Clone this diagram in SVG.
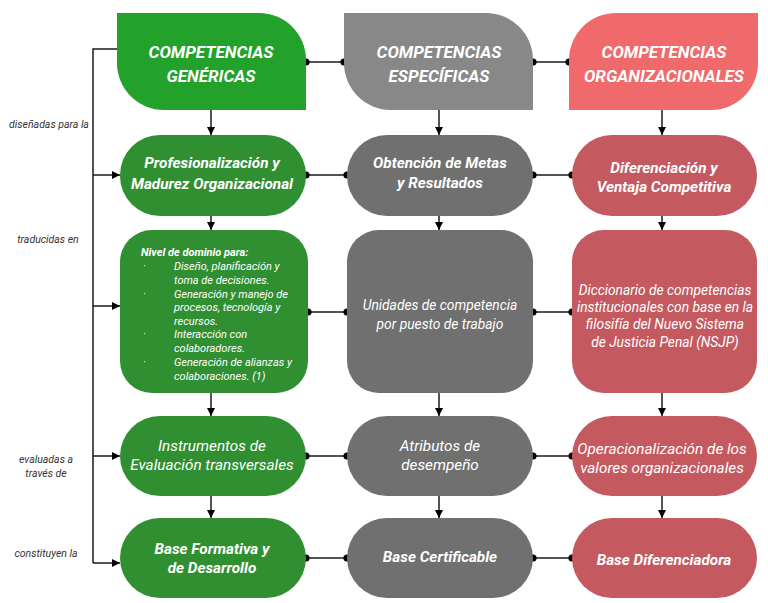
<svg xmlns="http://www.w3.org/2000/svg" width="768" height="603" viewBox="0 0 768 603">
<style>
.t{font-family:Roboto,"Liberation Sans",sans-serif;fill:#fff;font-style:italic;text-anchor:middle}
.h{font-size:17px;font-weight:bold}
.b{font-size:15.3px;font-weight:bold}
.r{font-size:15.3px}
.s{font-size:13.8px}
.x{font-size:11px;text-anchor:start}
.lab{font-family:Roboto,"Liberation Sans",sans-serif;font-style:italic;font-size:10.5px;fill:#333;text-anchor:middle}
.ln{stroke:#1a1a1a;stroke-width:1.5;fill:none}
.dot{fill:#000}
.gH{fill:#22A22A}.g{fill:#2F8F31}
.yH{fill:#888888}.y{fill:#707070}
.rH{fill:#F06A6B}.rr{fill:#C45960}
</style>
<defs>
<marker id="ar" viewBox="0 0 10 10" refX="10" refY="5" markerWidth="8" markerHeight="8" markerUnits="userSpaceOnUse" orient="auto">
<path d="M0,0 L10,5 L0,10 Z" fill="#000"/>
</marker>
</defs>
<g id="connectors">
<path class="ln" d="M117,49 H93 V563"/>
<path class="ln" d="M93,175 H120" marker-end="url(#ar)"/>
<path class="ln" d="M93,306 H120" marker-end="url(#ar)"/>
<path class="ln" d="M93,456 H120" marker-end="url(#ar)"/>
<path class="ln" d="M93,563 H120" marker-end="url(#ar)"/>
<path class="ln" d="M211,110 V135" marker-end="url(#ar)"/>
<path class="ln" d="M211,216 V230" marker-end="url(#ar)"/>
<path class="ln" d="M211,393 V416" marker-end="url(#ar)"/>
<path class="ln" d="M211,496 V518" marker-end="url(#ar)"/>
<path class="ln" d="M439,110 V135" marker-end="url(#ar)"/>
<path class="ln" d="M439,216 V230" marker-end="url(#ar)"/>
<path class="ln" d="M439,393 V416" marker-end="url(#ar)"/>
<path class="ln" d="M439,496 V518" marker-end="url(#ar)"/>
<path class="ln" d="M662,110 V135" marker-end="url(#ar)"/>
<path class="ln" d="M662,216 V230" marker-end="url(#ar)"/>
<path class="ln" d="M662,393 V416" marker-end="url(#ar)"/>
<path class="ln" d="M662,496 V518" marker-end="url(#ar)"/>
<path class="ln" d="M306,62 H344 M533,62 H569 M306,175 H347 M533,175 H572 M308,312 H347 M533,312 H572 M306,456 H347 M533,456 H572 M306,558 H347 M533,558 H572"/>
<g class="dot">
<circle cx="306" cy="62" r="3.6"/><circle cx="344" cy="62" r="3.6"/><circle cx="533" cy="62" r="3.6"/><circle cx="569" cy="62" r="3.6"/>
<circle cx="306" cy="175" r="3.6"/><circle cx="347" cy="175" r="3.6"/><circle cx="533" cy="175" r="3.6"/><circle cx="572" cy="175" r="3.6"/>
<circle cx="308" cy="312" r="3.6"/><circle cx="347" cy="312" r="3.6"/><circle cx="533" cy="312" r="3.6"/><circle cx="572" cy="312" r="3.6"/>
<circle cx="306" cy="456" r="3.6"/><circle cx="347" cy="456" r="3.6"/><circle cx="533" cy="456" r="3.6"/><circle cx="572" cy="456" r="3.6"/>
<circle cx="306" cy="558" r="3.6"/><circle cx="347" cy="558" r="3.6"/><circle cx="533" cy="558" r="3.6"/><circle cx="572" cy="558" r="3.6"/>
</g>
</g>
<g id="labels">
<text class="lab" x="49" y="128">diseñadas para la</text>
<text class="lab" x="48" y="243">traducidas en</text>
<text class="lab" x="46" y="463">evaluadas a</text>
<text class="lab" x="46" y="477">través de</text>
<text class="lab" x="46" y="557">constituyen la</text>
</g>
<g id="h-genericas">
<path class="gH" d="M117,13 H259 A47,47 0 0 1 306,60 V110 H164 A47,47 0 0 1 117,63 Z"/>
<text class="t h" x="211" y="58">COMPETENCIAS</text>
<text class="t h" x="211" y="82">GENÉRICAS</text>
</g>
<g id="h-especificas">
<path class="yH" d="M344,13 H486 A47,47 0 0 1 533,60 V110 H391 A47,47 0 0 1 344,63 Z"/>
<text class="t h" x="439" y="58">COMPETENCIAS</text>
<text class="t h" x="439" y="82">ESPECÍFICAS</text>
</g>
<g id="h-organizacionales">
<path class="rH" d="M616,13 H758 V63 A47,47 0 0 1 711,110 H569 V60 A47,47 0 0 1 616,13 Z"/>
<text class="t h" x="664" y="58">COMPETENCIAS</text>
<text class="t h" x="664" y="82">ORGANIZACIONALES</text>
</g>
<g id="g2">
<rect class="g" x="120" y="135" width="186" height="81" rx="40"/>
<text class="t b" x="212" y="168">Profesionalización y</text>
<text class="t b" x="212" y="189">Madurez Organizacional</text>
</g>
<g id="y2">
<rect class="y" x="347" y="135" width="186" height="81" rx="40"/>
<text class="t b" x="440" y="168">Obtención de Metas</text>
<text class="t b" x="440" y="188">y Resultados</text>
</g>
<g id="r2">
<rect class="rr" x="572" y="135" width="185" height="81" rx="40"/>
<text class="t b" x="664" y="173">Diferenciación y</text>
<text class="t b" x="664" y="192">Ventaja Competitiva</text>
</g>
<g id="g3">
<rect class="g" x="120" y="230" width="188" height="163" rx="32"/>
<text class="t x" x="141" y="256" font-weight="bold" font-size="11.5">Nivel de dominio para:</text>
<text class="t x" x="143" y="270">·</text>
<text class="t x" x="174" y="270">Diseño, planificación y</text>
<text class="t x" x="174" y="284">toma de decisiones.</text>
<text class="t x" x="143" y="297.5">·</text>
<text class="t x" x="174" y="297.5">Generación y manejo de</text>
<text class="t x" x="174" y="311">procesos, tecnología y</text>
<text class="t x" x="174" y="325">recursos.</text>
<text class="t x" x="143" y="338">·</text>
<text class="t x" x="174" y="338">Interacción con</text>
<text class="t x" x="174" y="352">colaboradores.</text>
<text class="t x" x="143" y="366">·</text>
<text class="t x" x="174" y="366">Generación de alianzas y</text>
<text class="t x" x="174" y="379.5">colaboraciones. (1)</text>
</g>
<g id="y3">
<rect class="y" x="347" y="230" width="186" height="163" rx="32"/>
<text class="t s" x="440" y="310">Unidades de competencia</text>
<text class="t s" x="440" y="329">por puesto de trabajo</text>
</g>
<g id="r3">
<rect class="rr" x="572" y="230" width="185" height="163" rx="32"/>
<text class="t s" x="665" y="295">Diccionario de competencias</text>
<text class="t s" x="665" y="312">institucionales con base en la</text>
<text class="t s" x="665" y="329">filosifía del Nuevo Sistema</text>
<text class="t s" x="665" y="347">de Justicia Penal (NSJP)</text>
</g>
<g id="g4">
<rect class="g" x="120" y="416" width="186" height="80" rx="40"/>
<text class="t r" x="212" y="451">Instrumentos de</text>
<text class="t r" x="212" y="470">Evaluación transversales</text>
</g>
<g id="y4">
<rect class="y" x="347" y="416" width="186" height="80" rx="40"/>
<text class="t r" x="440" y="451">Atributos de</text>
<text class="t r" x="440" y="470">desempeño</text>
</g>
<g id="r4">
<rect class="rr" x="572" y="416" width="185" height="80" rx="40"/>
<text class="t r" x="662" y="454">Operacionalización de los</text>
<text class="t r" x="662" y="473">valores organizacionales</text>
</g>
<g id="g5">
<rect class="g" x="120" y="518" width="186" height="80" rx="40"/>
<text class="t b" x="212" y="554">Base Formativa y</text>
<text class="t b" x="212" y="573">de Desarrollo</text>
</g>
<g id="y5">
<rect class="y" x="347" y="518" width="186" height="80" rx="40"/>
<text class="t b" x="440" y="562">Base Certificable</text>
</g>
<g id="r5">
<rect class="rr" x="572" y="518" width="185" height="80" rx="40"/>
<text class="t b" x="664" y="565">Base Diferenciadora</text>
</g>
</svg>
